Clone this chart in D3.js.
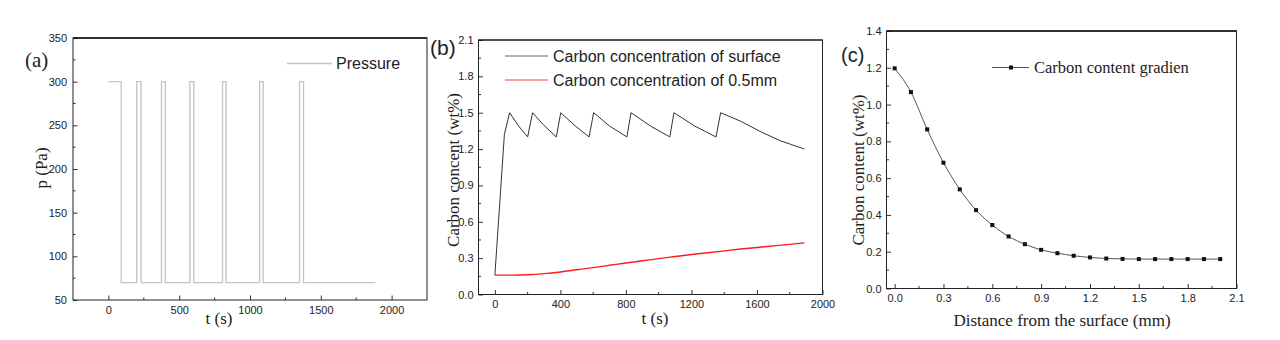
<!DOCTYPE html>
<html><head><meta charset="utf-8">
<script src="https://cdn.jsdelivr.net/npm/d3@7"></script>
<style>
body{margin:0;background:#fff;}
svg{display:block;}
.tick text{font-family:"Liberation Sans",Arial,sans-serif;font-size:11px;fill:#222;}
</style></head><body>
<svg id="chart" width="1280" height="340"></svg>
<script>
// ---------- Data ----------
// Panel (a): pressure step profile
const pressureTime = [0, 90, 90, 200, 200, 230, 230, 375, 375, 402, 402, 575, 575, 603, 603, 806, 806, 831, 831, 1068, 1068, 1093, 1093, 1350, 1350, 1378, 1378, 1885];
const pressureValue = [300, 300, 70, 70, 300, 300, 70, 70, 300, 300, 70, 70, 300, 300, 70, 70, 300, 300, 70, 70, 300, 300, 70, 70, 300, 300, 70, 70];
const aXTicks = [0, 500, 1000, 1500, 2000];
const aYTicks = [50, 100, 150, 200, 250, 300, 350];

// Panel (b): carbon concentration vs time
const surfaceTime = [0, 58, 90, 145, 200, 230, 300, 375, 402, 490, 575, 603, 700, 806, 831, 950, 1068, 1093, 1220, 1350, 1378, 1500, 1620, 1740, 1890];
const surfaceC = [0.16, 1.32, 1.5, 1.39, 1.3, 1.5, 1.395, 1.3, 1.5, 1.392, 1.3, 1.5, 1.39, 1.3, 1.5, 1.39, 1.3, 1.5, 1.39, 1.3, 1.5, 1.43, 1.345, 1.27, 1.2];
const depthTime = [0, 100, 200, 300, 400, 500, 600, 700, 800, 900, 1000, 1100, 1200, 1300, 1400, 1500, 1600, 1700, 1800, 1890];
const depthC = [0.16, 0.16, 0.163, 0.172, 0.186, 0.204, 0.222, 0.241, 0.26, 0.278, 0.296, 0.313, 0.33, 0.345, 0.36, 0.375, 0.388, 0.401, 0.414, 0.426];
const bXTicks = [0, 400, 800, 1200, 1600, 2000];
const bYTicks = [0.0, 0.3, 0.6, 0.9, 1.2, 1.5, 1.8, 2.1];

// Panel (c): carbon content gradient vs depth
const distance = [0.0, 0.1, 0.2, 0.3, 0.4, 0.5, 0.6, 0.7, 0.8, 0.9, 1.0, 1.1, 1.2, 1.3, 1.4, 1.5, 1.6, 1.7, 1.8, 1.9, 2.0];
const gradient = [1.197, 1.068, 0.865, 0.684, 0.539, 0.426, 0.345, 0.283, 0.241, 0.210, 0.192, 0.178, 0.169, 0.163, 0.161, 0.160, 0.160, 0.160, 0.160, 0.160, 0.160];
const cXTicks = [0.0, 0.3, 0.6, 0.9, 1.2, 1.5, 1.8, 2.1];
const cYTicks = [0.0, 0.2, 0.4, 0.6, 0.8, 1.0, 1.2, 1.4];

// ---------- Drawing ----------
const svg = d3.select("#chart");
const SANS = '"Liberation Sans", Arial, sans-serif';
const SERIF = '"Liberation Serif", "Times New Roman", serif';

function frame(p) {
  const g = svg.append("g");
  const x = d3.scaleLinear().domain(p.xDom).range([p.left, p.right]);
  const y = d3.scaleLinear().domain(p.yDom).range([p.bottom, p.top]);
  // minor ticks
  const xMinor = p.xMinor.map(v => v);
  const yMinor = p.yMinor.map(v => v);
  g.selectAll(".xm").data(xMinor).join("line")
    .attr("x1", d => x(d)).attr("x2", d => x(d))
    .attr("y1", p.bottom).attr("y2", p.bottom - 2.5).attr("stroke", "#333").attr("stroke-width", 1);
  g.selectAll(".ym").data(yMinor).join("line")
    .attr("y1", d => y(d)).attr("y2", d => y(d))
    .attr("x1", p.left).attr("x2", p.left + 2.5).attr("stroke", "#333").attr("stroke-width", 1);
  // axes
  const xa = g.append("g").attr("transform", `translate(0,${p.bottom})`)
    .call(d3.axisBottom(x).tickValues(p.xTicks).tickFormat(p.xFmt).tickSizeInner(-4.5).tickSizeOuter(0).tickPadding(p.xPad));
  const ya = g.append("g").attr("transform", `translate(${p.left},0)`)
    .call(d3.axisLeft(y).tickValues(p.yTicks).tickFormat(p.yFmt).tickSizeInner(-4.5).tickSizeOuter(0).tickPadding(p.yPad));
  [xa, ya].forEach(a => {
    a.select(".domain").remove();
    a.selectAll(".tick line").attr("stroke", "#333");
  });
  // box
  g.append("rect").attr("x", p.left).attr("y", p.top)
    .attr("width", p.right - p.left).attr("height", p.bottom - p.top)
    .attr("fill", "none").attr("stroke", "#222").attr("stroke-width", 1);
  g.append("line").attr("x1", p.left).attr("x2", p.right).attr("y1", p.top).attr("y2", p.top)
    .attr("stroke", "#111").attr("stroke-width", p.topW || 1);
  return {g, x, y};
}

// Panel (a)
{
  const p = frame({left: 73, right: 427, top: 38, bottom: 300,
    xDom: [-250, 2250], yDom: [50, 350], xTicks: aXTicks, yTicks: aYTicks,
    xMinor: [250, 750, 1250, 1750], yMinor: [75, 125, 175, 225, 275, 325],
    xFmt: d3.format("d"), yFmt: d3.format("d"), xPad: 6, yPad: 6, topW: 1.6});
  const line = d3.line().x((d, i) => p.x(pressureTime[i])).y((d, i) => p.y(pressureValue[i]));
  p.g.append("path").attr("d", line(pressureTime)).attr("fill", "none")
    .attr("stroke", "#c4c4c4").attr("stroke-width", 1.3);
  // legend
  p.g.append("line").attr("x1", 287).attr("x2", 332).attr("y1", 63.5).attr("y2", 63.5)
    .attr("stroke", "#c4c4c4").attr("stroke-width", 1.3);
  p.g.append("text").attr("x", 336).attr("y", 69).text("Pressure")
    .attr("font-family", SANS).attr("font-size", 16).attr("fill", "#222");
  // labels
  svg.append("text").attr("x", 25).attr("y", 67).text("(a)")
    .attr("font-family", SERIF).attr("font-size", 21).attr("fill", "#222");
  svg.append("text").attr("transform", "translate(47,168) rotate(-90)").attr("text-anchor", "middle")
    .text("p (Pa)").attr("font-family", SERIF).attr("font-size", 17).attr("fill", "#222");
  svg.append("text").attr("x", 219).attr("y", 324).attr("text-anchor", "middle")
    .text("t (s)").attr("font-family", SERIF).attr("font-size", 17).attr("fill", "#222");
}

// Panel (b)
{
  const p = frame({left: 478.5, right: 822.5, top: 40, bottom: 294.5,
    xDom: [-100, 2000], yDom: [0, 2.1], xTicks: bXTicks, yTicks: bYTicks,
    xMinor: [200, 600, 1000, 1400, 1800], yMinor: [0.15, 0.45, 0.75, 1.05, 1.35, 1.65, 1.95],
    xFmt: d3.format("d"), yFmt: d3.format(".1f"), xPad: 6, yPad: 5});
  const l1 = d3.line().x((d, i) => p.x(surfaceTime[i])).y((d, i) => p.y(surfaceC[i]));
  const l2 = d3.line().curve(d3.curveMonotoneX).x((d, i) => p.x(depthTime[i])).y((d, i) => p.y(depthC[i]));
  p.g.append("path").attr("d", l2(depthTime)).attr("fill", "none")
    .attr("stroke", "#ff1a1a").attr("stroke-width", 1.4);
  p.g.append("path").attr("d", l1(surfaceTime)).attr("fill", "none")
    .attr("stroke", "#333").attr("stroke-width", 1);
  // legend
  p.g.append("line").attr("x1", 505).attr("x2", 548).attr("y1", 56).attr("y2", 56)
    .attr("stroke", "#555").attr("stroke-width", 0.9);
  p.g.append("text").attr("x", 553).attr("y", 62).text("Carbon concentration of surface")
    .attr("font-family", SANS).attr("font-size", 16).attr("fill", "#222");
  p.g.append("line").attr("x1", 505).attr("x2", 548).attr("y1", 80).attr("y2", 80)
    .attr("stroke", "#ff4040").attr("stroke-width", 1);
  p.g.append("text").attr("x", 553).attr("y", 86).text("Carbon concentration of 0.5mm")
    .attr("font-family", SANS).attr("font-size", 16).attr("fill", "#222");
  svg.append("text").attr("x", 430).attr("y", 55).text("(b)")
    .attr("font-family", SANS).attr("font-size", 21).attr("fill", "#222");
  svg.append("text").attr("transform", "translate(459,170) rotate(-90)").attr("text-anchor", "middle")
    .text("Carbon concent (wt%)").attr("font-family", SERIF).attr("font-size", 17).attr("fill", "#222");
  svg.append("text").attr("x", 655).attr("y", 324).attr("text-anchor", "middle")
    .text("t (s)").attr("font-family", SERIF).attr("font-size", 17).attr("fill", "#222");
}

// Panel (c)
{
  const p = frame({left: 886.5, right: 1236.5, top: 31, bottom: 288.5,
    xDom: [-0.05, 2.1], yDom: [0, 1.4], xTicks: cXTicks, yTicks: cYTicks,
    xMinor: [0.15, 0.45, 0.75, 1.05, 1.35, 1.65, 1.95], yMinor: [0.1, 0.3, 0.5, 0.7, 0.9, 1.1, 1.3],
    xFmt: d3.format(".1f"), yFmt: d3.format(".1f"), xPad: 6, yPad: 5, topW: 1.6});
  const l = d3.line().curve(d3.curveMonotoneX).x((d, i) => p.x(distance[i])).y((d, i) => p.y(gradient[i]));
  p.g.append("path").attr("d", l(distance)).attr("fill", "none")
    .attr("stroke", "#555").attr("stroke-width", 1);
  p.g.selectAll(".pt").data(distance).join("rect")
    .attr("x", (d, i) => p.x(d) - 2).attr("y", (d, i) => p.y(gradient[i]) - 2)
    .attr("width", 4).attr("height", 4).attr("fill", "#111");
  // legend
  p.g.append("line").attr("x1", 992).attr("x2", 1029).attr("y1", 67.5).attr("y2", 67.5)
    .attr("stroke", "#555").attr("stroke-width", 1);
  p.g.append("rect").attr("x", 1009).attr("y", 65.5).attr("width", 4).attr("height", 4).attr("fill", "#111");
  p.g.append("text").attr("x", 1034).attr("y", 73).text("Carbon content gradien")
    .attr("font-family", SERIF).attr("font-size", 16.5).attr("fill", "#222");
  svg.append("text").attr("x", 841).attr("y", 62).text("(c)")
    .attr("font-family", SANS).attr("font-size", 20).attr("fill", "#222");
  svg.append("text").attr("transform", "translate(864,170) rotate(-90)").attr("text-anchor", "middle")
    .text("Carbon content (wt%)").attr("font-family", SERIF).attr("font-size", 17).attr("fill", "#222");
  svg.append("text").attr("x", 1062).attr("y", 326).attr("text-anchor", "middle")
    .text("Distance from the surface (mm)").attr("font-family", SERIF).attr("font-size", 17).attr("fill", "#222");
}
</script>
</body></html>
